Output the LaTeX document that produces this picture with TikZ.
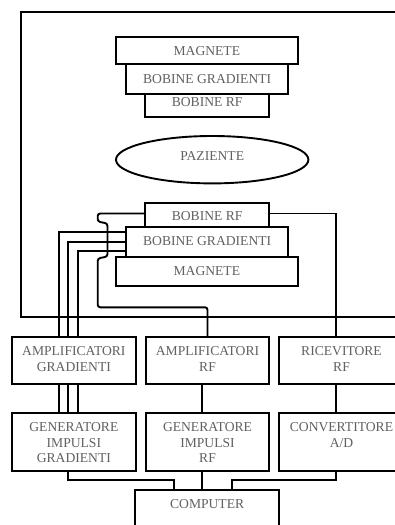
\documentclass[tikz,border=0pt]{standalone}
\usepackage{fontspec}
\setmainfont{Liberation Serif}
\usetikzlibrary{shapes.geometric}
\definecolor{txtgray}{gray}{0.38}
\tikzset{
  box/.style={draw, line width=1.9pt, inner sep=0pt, rectangle},
  wire/.style={line width=1.9pt},
  lbl/.style={anchor=base, inner sep=0pt, align=center, text=txtgray,
    font=\fontsize{13.6}{15.8}\selectfont}
}
\begin{document}
\begin{tikzpicture}[x=1pt,y=-1pt]
\useasboundingbox (0,0) rectangle (395,525);
\clip (0,0) rectangle (395,525);
\fill[white] (0,0) rectangle (395,525);
% outer scanner box
\node[box, minimum width=389.3pt, minimum height=305.3pt] (scanner) at (215.35,164.35) {};
% top group
\node[box, minimum width=181.7pt, minimum height=27.6pt] (mag1) at (206.85,50.5) {};
\node[box, minimum width=162.3pt, minimum height=29.7pt] (bg1) at (207.15,79.15) {};
\node[box, minimum width=124.3pt, minimum height=22.7pt] (brf1) at (207.15,105.35) {};
\node[draw, line width=1.9pt, ellipse, inner sep=0pt, minimum width=192.4pt, minimum height=47.4pt] (paz) at (212.2,159.7) {};
% bottom group
\node[box, minimum width=124.3pt, minimum height=24pt] (brf2) at (207.15,215.3) {};
\node[box, minimum width=162.3pt, minimum height=29.4pt] (bg2) at (207.15,242) {};
\node[box, minimum width=181.7pt, minimum height=29pt] (mag2) at (206.85,271.2) {};
% row 1
\node[box, minimum width=124.3pt, minimum height=47.3pt] (ag) at (73.85,360.65) {};
\node[box, minimum width=123.6pt, minimum height=47.3pt] (ar) at (207.5,360.65) {};
\node[box, minimum width=124.4pt, minimum height=47.3pt] (rr) at (341.5,360.65) {};
% row 2
\node[box, minimum width=124.3pt, minimum height=57.4pt] (gg) at (73.85,442) {};
\node[box, minimum width=123.6pt, minimum height=57.4pt] (gr) at (207.5,442) {};
\node[box, minimum width=124.4pt, minimum height=57.4pt] (cv) at (341.5,442) {};
% computer
\node[box, minimum width=144.3pt, minimum height=50pt] (comp) at (207.15,515) {};

% labels (anchor = baseline of last line)
\node[lbl] (tmag1) at (206.85,55.8) {MAGNETE};
\node[lbl] (tbg1) at (207.15,83.2) {BOBINE GRADIENTI};
\node[lbl] (tbrf1) at (207.15,106.7) {BOBINE RF};
\node[lbl] (tpaz) at (212.2,160.7) {PAZIENTE};
\node[lbl] (tbrf2) at (207.15,220.8) {BOBINE RF};
\node[lbl] (tbg2) at (207.15,245.3) {BOBINE GRADIENTI};
\node[lbl] (tmag2) at (206.85,275) {MAGNETE};
\node[lbl] (tag) at (73.85,371.3) {AMPLIFICATORI\\GRADIENTI};
\node[lbl] (tar) at (207.5,371.3) {AMPLIFICATORI\\RF};
\node[lbl] (trr) at (341.5,371.3) {RICEVITORE\\RF};
\node[lbl] (tgg) at (73.85,462.8) {GENERATORE\\IMPULSI\\GRADIENTI};
\node[lbl] (tgr) at (207.5,462.8) {GENERATORE\\IMPULSI\\RF};
\node[lbl] (tcv) at (341.5,447) {CONVERTITORE\\A/D};
\node[lbl] (tcomp) at (207.15,508.3) {COMPUTER};

% gradient wires
\draw[wire] ([yshift=10.3pt]bg2.west) -| (58.7,0 |- ag.north);
\draw[wire] (bg2.west) -| (67.7,0 |- ag.north);
\draw[wire] ([yshift=-9pt]bg2.west) -| (78.3,0 |- ag.north);
\draw[wire] (58.7,0 |- ag.south) -- (58.7,0 |- gg.north);
\draw[wire] (67.7,0 |- ag.south) -- (67.7,0 |- gg.north);
\draw[wire] (78.3,0 |- ag.south) -- (78.3,0 |- gg.north);
% RF transmit wire with hop
\draw[wire, rounded corners=2.5pt] ([yshift=1.8pt]brf2.west) -- (97.7,213.5) -- (97.7,221.5) -- (107.5,223.5) -- (107.5,256.5) -- (97.7,258.5) -- (97.7,307.3) -| (ar.north);
% RF receive wire
\draw[wire] ([yshift=1.8pt]brf2.east) -| (336.2,0 |- rr.north);
% row1 to row2
\draw[wire] (ar.south -| 202.3,0) -- (gr.north -| 202.3,0);
\draw[wire] (rr.south -| 336.2,0) -- (cv.north -| 336.2,0);
% to computer
\draw[wire] (68.3,0 |- gg.south) |- (174,480) -- (174,0 |- comp.north);
\draw[wire] (gr.south -| 202.3,0) -- (comp.north -| 202.3,0);
\draw[wire] (336.2,0 |- cv.south) |- (231.7,480) -- (231.7,0 |- comp.north);
\end{tikzpicture}
\end{document}
